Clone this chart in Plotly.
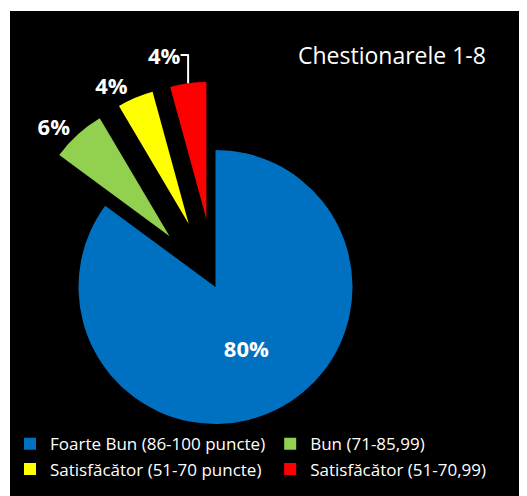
import plotly.graph_objects as go

# date
categorii = ['Foarte Bun (86-100 puncte)', 'Bun (71-85,99)',
             'Satisfăcător (51-70 puncte)', 'Satisfăcător (51-70,99)']
valori = [80, 6, 4, 4]
etichete = ['80%', '6%', '4%', '4%']
culori = ['#0070C0', '#92D050', '#FFFF00', '#FF0000']
pull = [0, 0.5, 0.5, 0.5]

fig = go.Figure()

fig.add_trace(go.Pie(
    labels=categorii,
    values=valori,
    text=etichete,
    textinfo='text',
    direction='clockwise',
    sort=False,
    rotation=0,
    pull=pull,
    marker=dict(colors=culori, line=dict(color='black', width=0)),
    textposition=['inside', 'outside', 'outside', 'outside'],
    insidetextorientation='horizontal',
    textfont=dict(family='Open Sans', size=22, color='white', weight='bold'),
    domain=dict(x=[0, 0.795], y=[0.007, 0.855]),
    hoverinfo='label+text',
))

# titlu
fig.add_annotation(
    text='Chestionarele 1-8', x=0.925, y=0.91, xref='paper', yref='paper',
    xanchor='right', yanchor='middle', showarrow=False,
    font=dict(family='Open Sans', size=23, color='white'),
)

# fundal negru
fig.add_shape(type='rect', xref='paper', yref='paper', x0=0, y0=0, x1=1, y1=1,
              fillcolor='black', line=dict(width=0), layer='below')

fig.update_layout(
    width=519, height=488,
    margin=dict(l=2, r=0, t=3, b=0, autoexpand=False),
    paper_bgcolor='white',
    showlegend=True,
    legend=dict(
        orientation='h', x=0, y=0.018, xanchor='left', yanchor='bottom',
        font=dict(family='Open Sans', size=17, color='white'),
        bgcolor='rgba(0,0,0,0)', traceorder='normal',
    ),
)

fig.write_html("out.html")
